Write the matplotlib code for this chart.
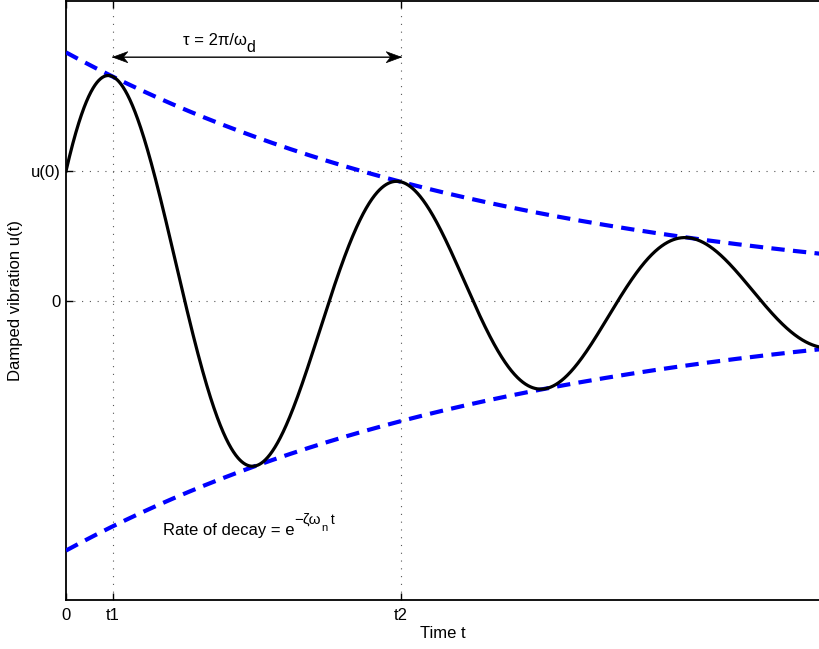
import numpy as np
import matplotlib
matplotlib.use("Agg")
import matplotlib.pyplot as plt
from matplotlib.path import Path
from matplotlib.patches import PathPatch
from matplotlib import transforms

plt.rcParams['font.family'] = ['Liberation Sans', 'DejaVu Sans']

# ---- data (system parameters) ----
zeta = 0.1          # damping ratio
omega_n = 1.0       # natural frequency
u0 = 1.0            # initial displacement u(0)
v0 = 1.52           # initial velocity
t_end = 16.51       # end of time axis
y_limits = [-2.29, 2.305]
x_tick_labels = ['0', 't1', 't2']
y_tick_labels = ['0', 'u(0)']
x_label = 'Time t'
y_label = 'Damped vibration u(t)'
# text pieces: (string, font size, vertical shift in pixels)
period_pieces = [('τ = 2π/ω', 12, 0), ('d', 11.5, -7)]
decay_pieces = [('Rate of decay = e', 12, 0), ('−ζω', 11, 11),
                ('n', 8, 4), (' t', 10, 11)]

# ---- derived quantities ----
omega_d = omega_n * np.sqrt(1 - zeta ** 2)
a = zeta * omega_n
B = (v0 + a * u0) / omega_d
amp = np.sqrt(u0 ** 2 + B ** 2)
phi = np.arctan2(B, u0)
tau = 2 * np.pi / omega_d
t1 = phi / omega_d
t2 = t1 + tau

t = np.linspace(0, t_end, 2000)
u = np.exp(-a * t) * (u0 * np.cos(omega_d * t) + B * np.sin(omega_d * t))
env = amp * np.exp(-a * t)

fig = plt.figure(figsize=(8.2, 6.49), dpi=100)
ax = fig.add_axes([66 / 820, 49 / 649, 754 / 820, 599 / 649])

ax.plot(t, env, color='#0000ff', lw=3.0, dashes=(3.2, 2), zorder=3)
ax.plot(t, -env, color='#0000ff', lw=3.0, dashes=(3.2, 2), zorder=3)
ax.plot(t, u, color='black', lw=2.3, zorder=4)

ax.set_xlim(0, t_end)
ax.set_ylim(*y_limits)
ax.set_xticks([0, t1, t2])
ax.set_xticklabels(x_tick_labels)
ax.set_yticks([0, u0])
ax.set_yticklabels(y_tick_labels)

grid_kw = dict(color='#555555', lw=0.8, dashes=(1, 6), zorder=1)
for xv in [t1, t2]:
    ax.axvline(xv, **grid_kw)
for yv in [0, u0]:
    ax.axhline(yv, **grid_kw)

ax.tick_params(axis='both', direction='in', length=5, width=1, labelsize=12,
               top=True, right=False, colors='black')
ax.tick_params(axis='x', pad=6)
ax.tick_params(axis='y', pad=4)

for side in ['left', 'bottom', 'top']:
    ax.spines[side].set_linewidth(1.3)
ax.spines['right'].set_visible(False)

ax.set_xlabel(x_label, fontsize=12)
ax.xaxis.set_label_coords(0.5, -0.043)
ax.set_ylabel(y_label, fontsize=12)
ax.yaxis.set_label_coords(-0.057, 0.5)

# period arrow (MATLAB-like heads with notched back)
arrow_y = 1.874
ax.annotate('', xy=(t1, arrow_y), xytext=(t2, arrow_y),
            arrowprops=dict(arrowstyle='-', color='black', lw=1.0,
                            shrinkA=0, shrinkB=0))
px_per_t = 754 / t_end
px_per_u = 599 / (y_limits[1] - y_limits[0])
hl = 15 / px_per_t
hw = 5.5 / px_per_u
nb = 4.5 / px_per_t
for tip, sgn in [(t1, 1), (t2, -1)]:
    verts = [(tip, arrow_y), (tip + sgn * hl, arrow_y + hw),
             (tip + sgn * (hl - nb), arrow_y), (tip + sgn * hl, arrow_y - hw),
             (tip, arrow_y)]
    codes = [Path.MOVETO, Path.LINETO, Path.LINETO, Path.LINETO, Path.CLOSEPOLY]
    ax.add_patch(PathPatch(Path(verts, codes), facecolor='black',
                           edgecolor='black', lw=0.5, zorder=5))

renderer = fig.canvas.get_renderer()


def draw_pieces(x, y, pieces):
    dx = 0.0
    for s, fs, dy in pieces:
        tr = transforms.offset_copy(ax.transData, fig=fig, x=dx, y=dy, units='dots')
        txt = ax.text(x, y, s, ha='left', va='baseline', fontsize=fs, transform=tr)
        dx += txt.get_window_extent(renderer=renderer).width


draw_pieces(2.56, 1.969, period_pieces)
draw_pieces(2.12, -1.789, decay_pieces)

fig.savefig('out.png', dpi=100)
